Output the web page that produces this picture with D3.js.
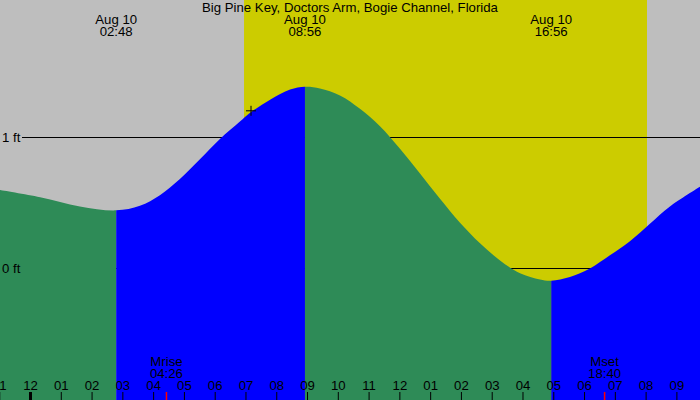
<!DOCTYPE html>
<html>
<head>
<meta charset="utf-8">
<script src="https://cdn.jsdelivr.net/npm/d3@7"></script>
<style>
  html, body { margin: 0; padding: 0; background: #fff; }
  svg { display: block; }
  text { font-family: "Liberation Sans", Arial, sans-serif; fill: #000; }
</style>
</head>
<body>
<svg id="chart" width="700" height="400"></svg>
<script>
// ---- Data (hours relative to midnight, Aug 10; heights in feet) ----
const title = "Big Pine Key, Doctors Arm, Bogie Channel, Florida";

const tideHours = [-0.975, 0.33, 1.62, 2.80, 3.57, 4.22, 4.87, 5.52, 6.17, 6.82, 7.15, 7.80, 8.45, 8.933,
  9.42, 10.07, 10.72, 11.37, 12.02, 12.67, 13.32, 13.97, 14.62, 15.27, 15.92, 16.57, 16.933,
  17.54, 18.19, 18.84, 19.49, 20.14, 20.79, 21.77];
const tideFeet = [0.595, 0.540, 0.470, 0.44, 0.475, 0.556, 0.680, 0.830, 0.985, 1.118, 1.185, 1.285, 1.362, 1.384,
  1.371, 1.317, 1.215, 1.082, 0.910, 0.722, 0.528, 0.345, 0.188, 0.058, -0.040, -0.088, -0.097,
  -0.068, -0.003, 0.097, 0.205, 0.338, 0.470, 0.621];

const extremeHours = [2.80, 8.933, 16.933];
const extremeDates = ["Aug 10", "Aug 10", "Aug 10"];
const extremeTimes = ["02:48", "08:56", "16:56"];

const tickHours = [-1, 0, 1, 2, 3, 4, 5, 6, 7, 8, 9, 10, 11, 12, 13, 14, 15, 16, 17, 18, 19, 20, 21];
const tickLabels = ["11", "12", "01", "02", "03", "04", "05", "06", "07", "08", "09", "10", "11",
  "12", "01", "02", "03", "04", "05", "06", "07", "08", "09"];

const levelFeet = [1, 0];
const levelLabels = ["1 ft", "0 ft"];

const sunriseHour = 6.953, sunsetHour = 20.045;
const moonHours = [4.433, 18.667];
const moonNames = ["Mrise", "Mset"];
const moonTimes = ["04:26", "18:40"];

const markerHour = 7.18, markerFeet = 1.20;

// ---- Chart ----
const W = 700, H = 400;
const FS = 13.2;
const svg = d3.select("#chart");
const x = d3.scaleLinear().domain([-0.975, 21.767]).range([0, W]);
const y = d3.scaleLinear().domain([0, 1]).range([268, 137]);

svg.append("rect").attr("width", W).attr("height", H).attr("fill", "#bebebe");
svg.append("rect")
  .attr("x", x(sunriseHour)).attr("y", 0)
  .attr("width", x(sunsetHour) - x(sunriseHour)).attr("height", H)
  .attr("fill", "#cccc00");

// level lines (behind the tide)
svg.selectAll(".lvl").data(levelFeet).enter().append("line")
  .attr("x1", 22).attr("x2", W)
  .attr("y1", d => Math.round(y(d)) + 0.5).attr("y2", d => Math.round(y(d)) + 0.5)
  .attr("stroke", "#000").attr("stroke-width", 1);

// tide area, one smooth curve, coloured by segment: falling = green, rising = blue
const pts = tideHours.map((t, i) => ({ t, h: tideFeet[i] }));
const bounds = [tideHours[0], ...extremeHours, tideHours[tideHours.length - 1]];
const area = d3.area().x(d => x(d.t)).y0(H).y1(d => y(d.h)).curve(d3.curveCatmullRom.alpha(0.5));
const defs = svg.append("defs");
for (let i = 0; i < bounds.length - 1; i++) {
  const seg = pts.filter(p => p.t >= bounds[i] - 1e-9 && p.t <= bounds[i + 1] + 1e-9);
  const rising = seg[seg.length - 1].h > seg[0].h;
  const x0 = i === 0 ? -5 : x(bounds[i]);
  const x1 = i === bounds.length - 2 ? W + 5 : x(bounds[i + 1]);
  defs.append("clipPath").attr("id", "seg" + i).append("rect")
    .attr("x", x0).attr("y", 0).attr("width", x1 - x0).attr("height", H);
  svg.append("path").datum(pts).attr("d", area)
    .attr("clip-path", `url(#seg${i})`)
    .attr("fill", rising ? "#0000ff" : "#2e8b57");
}

// level labels
svg.selectAll(".lvlt").data(levelFeet).enter().append("text")
  .attr("x", 2).attr("y", d => y(d) + 4.5)
  .attr("font-size", FS).text((d, i) => levelLabels[i]);

// marker
const mx = x(markerHour), my = y(markerFeet);
svg.append("path")
  .attr("d", `M${mx - 5},${my}H${mx + 5}M${mx},${my - 5}V${my + 5}`)
  .attr("stroke", "#000").attr("stroke-width", 1).attr("fill", "none");

// title
svg.append("text").attr("x", 350).attr("y", 12).attr("text-anchor", "middle")
  .attr("font-size", FS).text(title);

// extreme labels
extremeHours.forEach((t, i) => {
  svg.append("text").attr("x", x(t)).attr("y", 24).attr("text-anchor", "middle")
    .attr("font-size", FS).text(extremeDates[i]);
  svg.append("text").attr("x", x(t)).attr("y", 36).attr("text-anchor", "middle")
    .attr("font-size", FS).text(extremeTimes[i]);
});

// hour axis
const axis = d3.axisTop(x).tickValues(tickHours)
  .tickFormat((d, i) => tickLabels[i]).tickSize(8).tickPadding(2);
const g = svg.append("g").attr("transform", `translate(0,${H})`).call(axis);
g.select(".domain").remove();
g.selectAll("text").attr("font-size", FS).attr("font-family", "Liberation Sans, Arial, sans-serif").attr("fill", "#000");
g.selectAll("line").attr("stroke", "#000").attr("stroke-width", d => d === 0 ? 3 : 1);

// moon rise / set
moonHours.forEach((t, i) => {
  svg.append("line").attr("x1", x(t)).attr("x2", x(t)).attr("y1", 392).attr("y2", H)
    .attr("stroke", "#ff0000").attr("stroke-width", 1.5);
  svg.append("text").attr("x", x(t)).attr("y", 366).attr("text-anchor", "middle")
    .attr("font-size", FS).text(moonNames[i]);
  svg.append("text").attr("x", x(t)).attr("y", 378).attr("text-anchor", "middle")
    .attr("font-size", FS).text(moonTimes[i]);
});
</script>
</body>
</html>
